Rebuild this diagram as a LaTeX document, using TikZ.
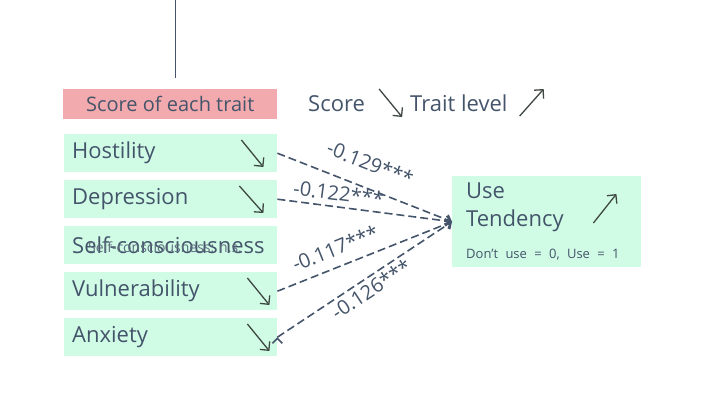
\documentclass[tikz,border=0pt]{standalone}
\usepackage{fontspec}
\setmainfont{Open Sans}
\usetikzlibrary{arrows.meta}
\definecolor{ink}{HTML}{44546A}
\definecolor{mint}{HTML}{D0FCE6}
\definecolor{rose}{HTML}{F2AAAE}
\definecolor{pencil}{HTML}{3E4741}

\begin{document}
\begin{tikzpicture}[x = 1pt, y = -1pt,
    trait/.style = {fill = mint, anchor = north west, minimum height = 38pt, text width = 197pt, inner xsep = 8pt, align = left, text = ink, font = \fontsize{22}{26}\selectfont},
    coef/.style = {sloped, text = ink, inner sep = 1pt, font = \fontsize{20}{24}\selectfont},
    link/.style = {draw = ink, line width = 1.6pt, dash pattern = on 8pt off 4pt, -{Straight Barb[length = 5pt]}},
    hand/.style = {draw = pencil, line width = 1.3pt, -{Straight Barb[angle = 90:9pt]}}]
  \useasboundingbox (0,0) rectangle (720,405);
  \coordinate (stem-top) at (175,0);
  \coordinate (stem-end) at (175,78);
  \draw[ink, line width = 1pt] (stem-top) -- (stem-end);

  % header and legend
  \node[fill = rose, anchor = north west, minimum width = 214pt, minimum height = 30pt, text = ink, font = \fontsize{20}{24}\selectfont] (head) at (63,89) {Score of each trait};
  \node[anchor = base west, text = ink, font = \fontsize{22}{26}\selectfont, inner sep = 0pt] (score) at (308,111) {Score};
  \node[anchor = base west, text = ink, font = \fontsize{22}{26}\selectfont, inner sep = 0pt] (level) at (410,111) {Trait level};
  \draw[hand] ([shift = {(14,-22)}]score.base east) -- ([shift = {(37,6)}]score.base east);
  \draw[hand] ([shift = {(12,5)}]level.base east) -- ([shift = {(36,-22)}]level.base east);

  % traits
  \node[trait] (host) at (64,134) {Hostility};
  \node[trait] (depr) at (64,180) {Depression};
  \node[trait] (self) at (64,226) {Self-consciousness};
  \node[trait] (vuln) at (64,272) {Vulnerability};
  \node[trait] (anx)  at (64,318) {Anxiety};
  \node[anchor = base west, text = ink!85, font = \fontsize{14}{16}\selectfont, inner sep = 0pt] (selfnote) at (88,252) {Self-consciousness: n.s.};
  \foreach \n/\dx/\ex in {host/-36/-14, depr/-38/-14, vuln/-30/-8, anx/-30/-8}
    \draw[hand] ([shift = {(\dx,6)}]\n.north east) -- ([shift = {(\ex,33)}]\n.north east);

  % outcome
  \node[fill = mint, anchor = north west, minimum width = 189pt, minimum height = 91pt, text width = 167pt, inner xsep = 11pt, align = left, text = ink, font = \fontsize{22}{28}\selectfont] (use) at (452,176)
    {\hspace*{3pt}Use\\\hspace*{3pt}Tendency\\[4pt]\hspace*{3pt}{\fontsize{13}{16}\selectfont Don't use = 0, Use = 1}};
  \draw[hand] ([shift = {(-48,47)}]use.north east) -- ([shift = {(-25,18)}]use.north east);

  \path[link] (host.east) edge node[coef, above = 15pt, pos = 0.48] {-0.129***} (use.west)
              (depr.east) edge node[coef, above = 4pt, pos = 0.34] {-0.122***} (use.west)
              (vuln.east) edge node[coef, above = 9pt, pos = 0.37] {-0.117***} (use.west)
              (anx.east)  edge node[coef, below = 2pt, pos = 0.5] {-0.126***} (use.west);
\end{tikzpicture}
\end{document}
